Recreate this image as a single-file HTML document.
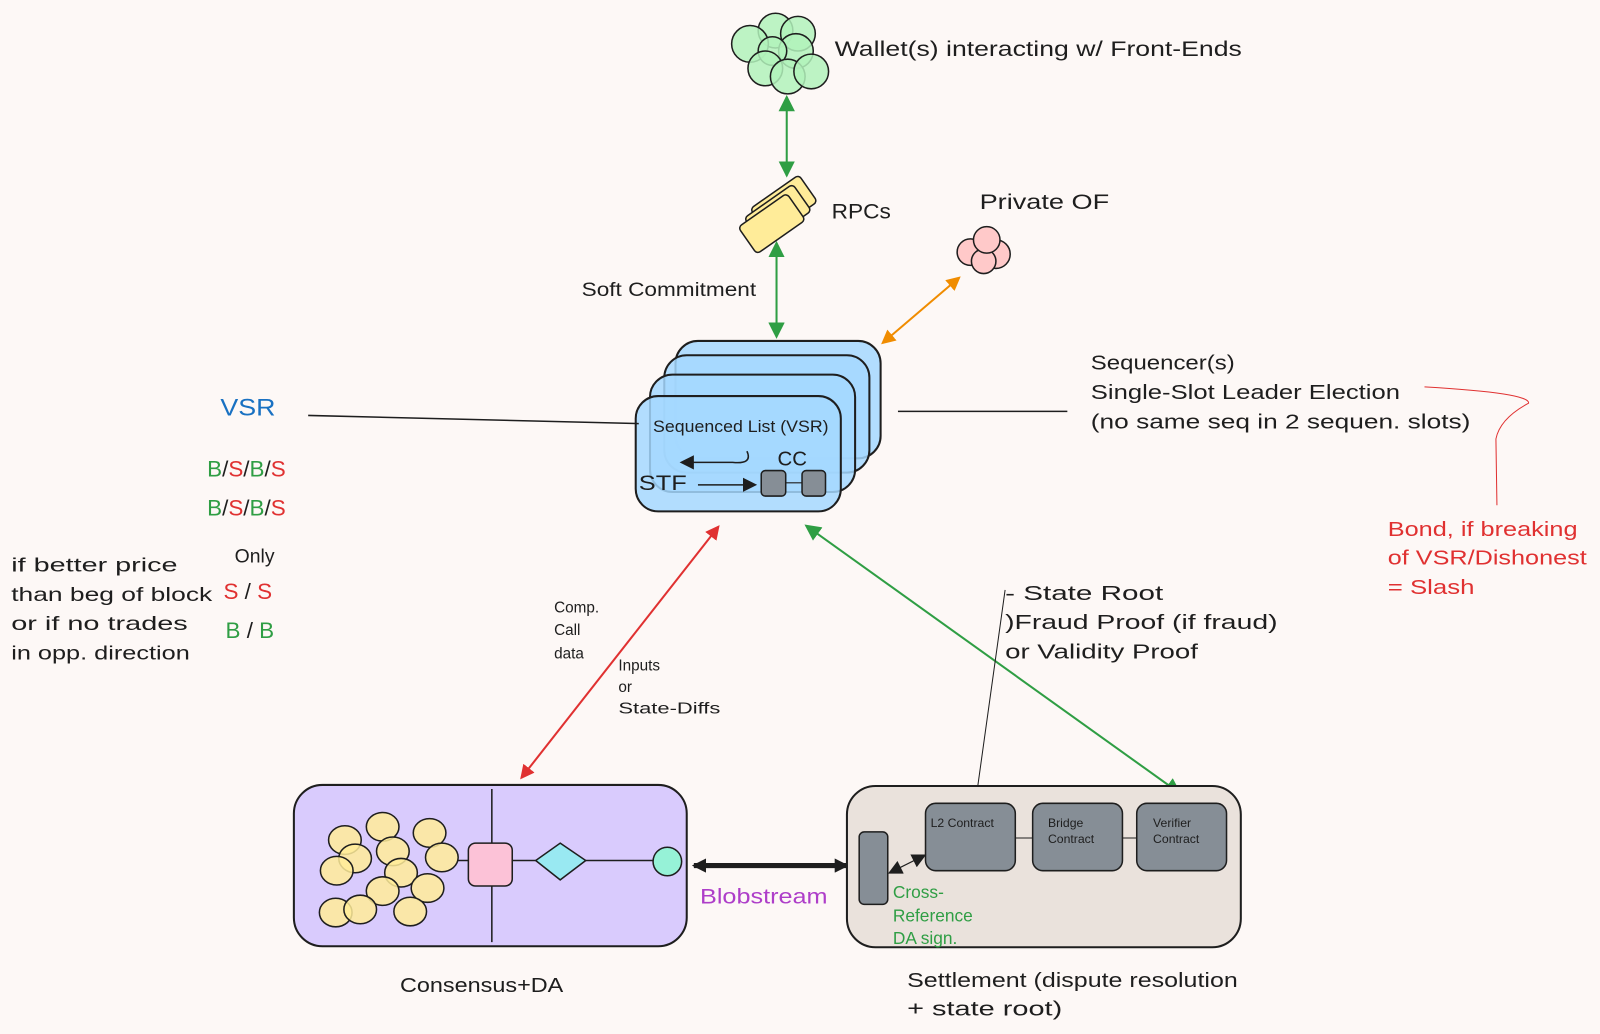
<!DOCTYPE html>
<html><head><meta charset="utf-8"><style>
html,body{margin:0;padding:0;background:#fdf8f6;}
svg{display:block}
text{font-family:"Liberation Sans",sans-serif;fill:#1e1e1e;}
</style></head><body>
<svg width="1600" height="1034" viewBox="0 0 1568 1013" preserveAspectRatio="none" xmlns="http://www.w3.org/2000/svg">
<defs>
<marker id="ar" markerWidth="14" markerHeight="14" refX="12" refY="7" orient="auto-start-reverse" markerUnits="userSpaceOnUse"><path d="M0,0 L14,7 L0,14z" fill="#e03131"/></marker>
<marker id="ao" markerWidth="14" markerHeight="14" refX="12" refY="7" orient="auto-start-reverse" markerUnits="userSpaceOnUse"><path d="M0,0 L14,7 L0,14z" fill="#f08c00"/></marker>
<marker id="ak" markerWidth="14" markerHeight="14" refX="12" refY="7" orient="auto-start-reverse" markerUnits="userSpaceOnUse"><path d="M0,0 L14,7 L0,14z" fill="#1e1e1e"/></marker>
<marker id="ag2" markerWidth="16" markerHeight="16" refX="14" refY="8" orient="auto-start-reverse" markerUnits="userSpaceOnUse"><path d="M0,0 L16,8 L0,16z" fill="#2f9e44"/></marker>
</defs>
<rect width="1568" height="1013" fill="#fdf8f6"/>

<!-- wallets -->
<g fill="#b2f2bb" fill-opacity="0.85" stroke="#1e1e1e" stroke-width="1.5">
<circle cx="760" cy="30" r="17"/><circle cx="782" cy="33" r="17"/><circle cx="735" cy="43" r="18"/><circle cx="780" cy="50" r="17"/><circle cx="757" cy="50" r="14"/><circle cx="750" cy="67" r="17"/><circle cx="772" cy="75" r="17"/><circle cx="795" cy="70" r="17"/>
</g>
<text x="818" y="55" font-size="21" textLength="399" lengthAdjust="spacingAndGlyphs">Wallet(s) interacting w/ Front-Ends</text>
<line x1="771" y1="95" x2="771" y2="172" stroke="#2f9e44" stroke-width="2" marker-start="url(#ag2)" marker-end="url(#ag2)"/>

<!-- RPCs -->
<g transform="translate(766,205) rotate(-35)" stroke="#1e1e1e" stroke-width="1.5" fill="#ffec99">
<rect x="-25" y="-18" width="58" height="32" rx="4"/><rect x="-35" y="-14" width="58" height="32" rx="4"/><rect x="-45" y="-10" width="58" height="32" rx="4"/>
</g>
<text x="815" y="214" font-size="21" textLength="58" lengthAdjust="spacingAndGlyphs">RPCs</text>
<line x1="761" y1="238" x2="761" y2="330" stroke="#2f9e44" stroke-width="2" marker-start="url(#ag2)" marker-end="url(#ag2)"/>
<text x="570" y="290" font-size="19" textLength="171" lengthAdjust="spacingAndGlyphs">Soft Commitment</text>

<!-- Private OF -->
<text x="960" y="205" font-size="21" textLength="127" lengthAdjust="spacingAndGlyphs">Private OF</text>
<g fill="#ffc9c9" stroke="#1e1e1e" stroke-width="1.5"><circle cx="951" cy="247" r="13"/><circle cx="976" cy="249" r="14"/><circle cx="964" cy="256" r="12"/><circle cx="967" cy="235" r="13"/></g>
<line x1="940" y1="272" x2="865" y2="336" stroke="#f08c00" stroke-width="2" marker-start="url(#ao)" marker-end="url(#ao)"/>

<!-- sequencer stack -->
<g fill="#a5d8ff" fill-opacity="0.85" stroke="#1e1e1e" stroke-width="2">
<rect x="662" y="334" width="201" height="115" rx="22"/>
<rect x="651" y="348" width="201" height="115" rx="22"/>
<rect x="637" y="367" width="201" height="115" rx="22"/>
<rect x="623" y="388" width="201" height="113" rx="22"/>
</g>
<text x="640" y="423" font-size="16" textLength="172" lengthAdjust="spacingAndGlyphs">Sequenced List (VSR)</text>
<path d="M732 442 Q738 455 718 453 L668 453" fill="none" stroke="#1e1e1e" stroke-width="1.5" marker-end="url(#ak)"/>
<text x="762" y="456" font-size="20">CC</text>
<text x="626" y="480" font-size="21" textLength="47" lengthAdjust="spacingAndGlyphs">STF</text>
<line x1="684" y1="475" x2="740" y2="475" stroke="#1e1e1e" stroke-width="1.5" marker-end="url(#ak)"/>
<rect x="746" y="461" width="24" height="25" rx="4" fill="#868e96" stroke="#1e1e1e" stroke-width="1.5"/>
<line x1="770" y1="473" x2="786" y2="473" stroke="#1e1e1e"/>
<rect x="786" y="461" width="23" height="25" rx="4" fill="#868e96" stroke="#1e1e1e" stroke-width="1.5"/>

<!-- VSR lines -->
<text x="216" y="407" font-size="24" style="fill:#1971c2" textLength="54" lengthAdjust="spacingAndGlyphs">VSR</text>
<line x1="302" y1="407" x2="626" y2="415" stroke="#1e1e1e" stroke-width="1.5"/>
<line x1="880" y1="403" x2="1046" y2="403" stroke="#1e1e1e" stroke-width="1.5"/>
<text x="1069" y="362" font-size="20" textLength="141" lengthAdjust="spacingAndGlyphs">Sequencer(s)</text>
<text x="1069" y="391" font-size="20" textLength="303" lengthAdjust="spacingAndGlyphs">Single-Slot Leader Election</text>
<text x="1069" y="420" font-size="20" textLength="372" lengthAdjust="spacingAndGlyphs">(no same seq in 2 sequen. slots)</text>
<path d="M1396 379 Q1500 385 1498 395 Q1470 410 1466 430 L1467 495" fill="none" stroke="#e03131" stroke-width="1"/>
<text x="1360" y="525" font-size="20" style="fill:#e03131" textLength="186" lengthAdjust="spacingAndGlyphs">Bond, if breaking</text>
<text x="1360" y="553" font-size="20" style="fill:#e03131" textLength="195" lengthAdjust="spacingAndGlyphs">of VSR/Dishonest</text>
<text x="1360" y="582" font-size="20" style="fill:#e03131" textLength="85" lengthAdjust="spacingAndGlyphs">= Slash</text>

<!-- B/S -->
<g font-size="22">
<text x="203" y="467"><tspan style="fill:#2f9e44">B</tspan>/<tspan style="fill:#e03131">S</tspan>/<tspan style="fill:#2f9e44">B</tspan>/<tspan style="fill:#e03131">S</tspan></text>
<text x="203" y="505"><tspan style="fill:#2f9e44">B</tspan>/<tspan style="fill:#e03131">S</tspan>/<tspan style="fill:#2f9e44">B</tspan>/<tspan style="fill:#e03131">S</tspan></text>
<text x="230" y="551" font-size="19">Only</text>
<text x="219" y="587"><tspan style="fill:#e03131">S</tspan> / <tspan style="fill:#e03131">S</tspan></text>
<text x="221" y="625"><tspan style="fill:#2f9e44">B</tspan> / <tspan style="fill:#2f9e44">B</tspan></text>
</g>
<g font-size="19">
<text x="11" y="560" textLength="163" lengthAdjust="spacingAndGlyphs">if better price</text>
<text x="11" y="589" textLength="197" lengthAdjust="spacingAndGlyphs">than beg of block</text>
<text x="11" y="617" textLength="173" lengthAdjust="spacingAndGlyphs">or if no trades</text>
<text x="11" y="646" textLength="175" lengthAdjust="spacingAndGlyphs">in opp. direction</text></g>

<!-- red arrow -->
<line x1="704" y1="516" x2="511" y2="762" stroke="#e03131" stroke-width="2" marker-start="url(#ar)" marker-end="url(#ar)"/>
<g font-size="15"><text x="543" y="600">Comp.</text><text x="543" y="622">Call</text><text x="543" y="645">data</text>
<text x="606" y="657">Inputs</text><text x="606" y="678">or</text><text x="606" y="699" textLength="100" lengthAdjust="spacingAndGlyphs">State-Diffs</text></g>

<!-- green arrow -->
<line x1="790" y1="515" x2="1156" y2="777" stroke="#2f9e44" stroke-width="2" marker-start="url(#ag2)" marker-end="url(#ag2)"/>
<g font-size="20">
<text x="985" y="588" textLength="155" lengthAdjust="spacingAndGlyphs">- State Root</text>
<text x="985" y="616" textLength="267" lengthAdjust="spacingAndGlyphs">)Fraud Proof (if fraud)</text>
<text x="985" y="645" textLength="189" lengthAdjust="spacingAndGlyphs">or Validity Proof</text></g>
<line x1="985" y1="578" x2="956" y2="786" stroke="#1e1e1e" stroke-width="1"/>

<!-- Consensus box -->
<rect x="288" y="769" width="385" height="158" rx="28" fill="#d0bfff" fill-opacity="0.8" stroke="#1e1e1e" stroke-width="2"/>
<line x1="482" y1="773" x2="482" y2="923" stroke="#1e1e1e" stroke-width="1.5"/>
<g fill="#ffec99" fill-opacity="0.85" stroke="#1e1e1e" stroke-width="1.5">
<ellipse cx="375" cy="810" rx="16" ry="14"/><ellipse cx="338" cy="823" rx="16" ry="14"/><ellipse cx="421" cy="816" rx="16" ry="14"/><ellipse cx="348" cy="841" rx="16" ry="14"/><ellipse cx="385" cy="834" rx="16" ry="14"/><ellipse cx="433" cy="840" rx="16" ry="14"/><ellipse cx="330" cy="853" rx="16" ry="14"/><ellipse cx="393" cy="855" rx="16" ry="14"/><ellipse cx="375" cy="873" rx="16" ry="14"/><ellipse cx="419" cy="870" rx="16" ry="14"/><ellipse cx="329" cy="894" rx="16" ry="14"/><ellipse cx="353" cy="891" rx="16" ry="14"/><ellipse cx="402" cy="893" rx="16" ry="14"/>
</g>
<line x1="448" y1="843" x2="640" y2="843" stroke="#1e1e1e" stroke-width="1.5"/>
<rect x="459" y="826" width="43" height="42" rx="7" fill="#fcc2d7" stroke="#1e1e1e" stroke-width="1.5"/>
<path d="M549 826 L574 843 L549 862 L525 843z" fill="#99e9f2" stroke="#1e1e1e" stroke-width="1.5"/>
<circle cx="654" cy="844" r="14" fill="#96f2d7" stroke="#1e1e1e" stroke-width="1.5"/>
<text x="392" y="972" font-size="20" textLength="160" lengthAdjust="spacingAndGlyphs">Consensus+DA</text>

<!-- Blobstream -->
<line x1="680" y1="848" x2="830" y2="848" stroke="#1e1e1e" stroke-width="5" marker-start="url(#ak)" marker-end="url(#ak)"/>
<text x="686" y="885" font-size="21" style="fill:#ae3ec9" textLength="125" lengthAdjust="spacingAndGlyphs">Blobstream</text>

<!-- Settlement -->
<rect x="830" y="770" width="386" height="158" rx="28" fill="#eae2dc" stroke="#1e1e1e" stroke-width="2"/>
<rect x="842" y="815" width="28" height="71" rx="5" fill="#868e96" stroke="#1e1e1e" stroke-width="1.5"/>
<line x1="995" y1="821" x2="1115" y2="821" stroke="#1e1e1e"/>
<rect x="907" y="787" width="88" height="66" rx="10" fill="#868e96" stroke="#1e1e1e" stroke-width="1.5"/>
<rect x="1012" y="787" width="88" height="66" rx="10" fill="#868e96" stroke="#1e1e1e" stroke-width="1.5"/>
<rect x="1114" y="787" width="88" height="66" rx="10" fill="#868e96" stroke="#1e1e1e" stroke-width="1.5"/>
<g font-size="12"><text x="912" y="810">L2 Contract</text><text x="1027" y="810">Bridge</text><text x="1027" y="826">Contract</text><text x="1130" y="810">Verifier</text><text x="1130" y="826">Contract</text></g>
<line x1="872" y1="855" x2="906" y2="838" stroke="#1e1e1e" stroke-width="1.2" marker-start="url(#ak)" marker-end="url(#ak)"/>
<g font-size="17"><text x="875" y="880" style="fill:#2f9e44">Cross-</text><text x="875" y="903" style="fill:#2f9e44">Reference</text><text x="875" y="925" style="fill:#2f9e44">DA sign.</text></g>
<text x="889" y="967" font-size="20" textLength="324" lengthAdjust="spacingAndGlyphs">Settlement (dispute resolution</text>
<text x="889" y="995" font-size="20" textLength="152" lengthAdjust="spacingAndGlyphs">+ state root)</text>
</svg>
</body></html>
